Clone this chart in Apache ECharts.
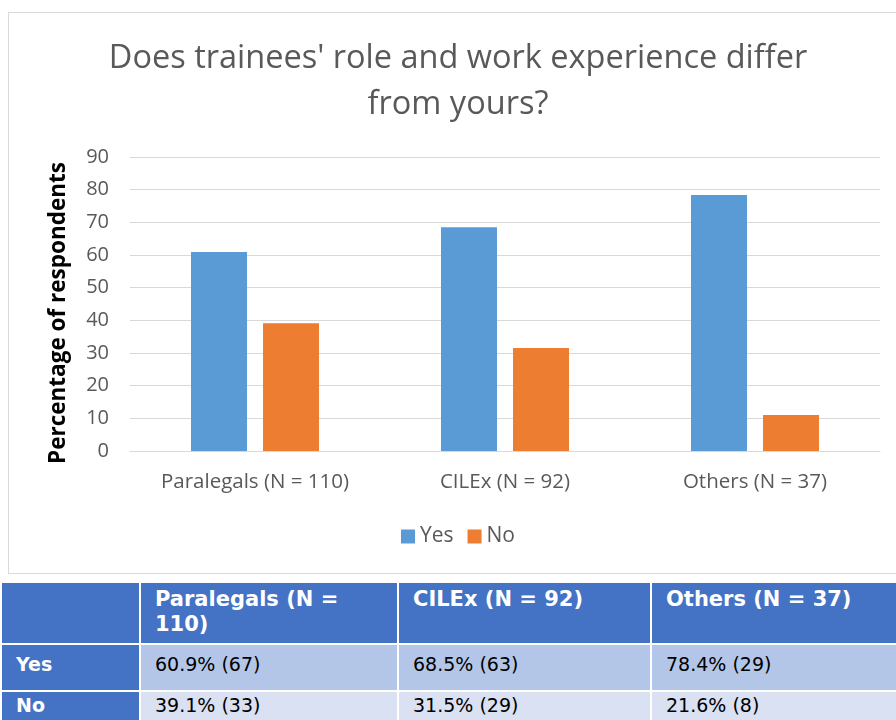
<!DOCTYPE html>
<html>
<head>
<meta charset="utf-8">
<script src="https://cdn.jsdelivr.net/npm/echarts@6/dist/echarts.min.js"></script>
<style>
  body { margin: 0; background: #fff; width: 896px; height: 720px; overflow: hidden; position: relative; }
  #chart { position: absolute; left: 8px; top: 12px; width: 900px; height: 562px; border: 1px solid #d9d9d9; box-sizing: border-box; }
  #tbl { position: absolute; left: 0; top: 581px; width: 900px; border-collapse: collapse; font-family: "DejaVu Sans", Verdana, sans-serif; font-size: 19px; table-layout: fixed; }
  #tbl td { border: 2px solid #fff; padding: 2px 14px; vertical-align: top; box-sizing: border-box; }
  #tbl tr.head td { background: #4472C4; color: #fff; font-weight: bold; font-size: 21px; height: 62px; padding-top: 4px; line-height: 25px; }
  #tbl tr.yes td { background: #B4C6E7; height: 47px; padding-top: 8px; }
  #tbl tr.no td { background: #D9E1F2; height: 40px; padding-top: 2px; }
  #tbl td.rowhead { background: #4472C4 !important; color: #fff; font-weight: bold; }
</style>
</head>
<body>
<div id="chart"></div>
<table id="tbl"></table>
<script>
// 数据
const categories = ['Paralegals (N = 110)', 'CILEx (N = 92)', 'Others (N = 37)'];
const yesValues = [60.9, 68.5, 78.4];
const noValues = [39.1, 31.5, 11];
const yTicks = [0, 90, 10]; // min, max, interval

// 表格数据
const tableRows = ['Yes', 'No'];
const tablePct = [['60.9%', '68.5%', '78.4%'], ['39.1%', '31.5%', '21.6%']];
const tableCount = [[67, 63, 29], [33, 29, 8]];

const labelFont = '"Open Sans", sans-serif';

const chart = echarts.init(document.getElementById('chart'));
chart.setOption({
  animation: false,
  title: {
    text: "Does trainees' role and work experience differ\nfrom yours?",
    left: 'center',
    top: 18,
    textStyle: { fontFamily: labelFont, fontSize: 32.5, fontWeight: 'normal', color: '#595959', lineHeight: 46 }
  },
  legend: {
    data: ['Yes', 'No'],
    bottom: 21,
    left: 'center',
    itemWidth: 14,
    itemHeight: 14,
    itemGap: 14,
    icon: 'rect',
    textStyle: { fontFamily: labelFont, fontSize: 21, color: '#595959' }
  },
  grid: { left: 121, width: 750, top: 144, height: 294 },
  xAxis: {
    type: 'category',
    data: categories,
    axisLine: { lineStyle: { color: '#d9d9d9' } },
    axisTick: { show: false },
    axisLabel: { fontFamily: labelFont, fontSize: 20.5, color: '#595959', margin: 21 }
  },
  yAxis: {
    type: 'value',
    min: yTicks[0],
    max: yTicks[1],
    interval: yTicks[2],
    name: 'Percentage of respondents',
    nameLocation: 'middle',
    nameGap: 60,
    nameTextStyle: { fontFamily: labelFont, fontSize: 22.5, fontWeight: 'bold', color: '#000', padding: [0, 18, 0, 0] },
    axisLine: { show: false },
    axisTick: { show: false },
    splitLine: { lineStyle: { color: '#d9d9d9', width: 1 } },
    axisLabel: { fontFamily: labelFont, fontSize: 20, color: '#595959', margin: 21 }
  },
  series: [
    { name: 'Yes', type: 'bar', data: yesValues, barWidth: 56, barGap: '28.6%', itemStyle: { color: '#5B9BD5' } },
    { name: 'No', type: 'bar', data: noValues, barWidth: 56, itemStyle: { color: '#ED7D31' } }
  ]
});

// 表格
const tbl = document.getElementById('tbl');
let html = '<colgroup><col style="width:139px"><col style="width:258px"><col style="width:253px"><col style="width:250px"></colgroup>';
html += '<tr class="head"><td></td>' + categories.map(c => '<td>' + c + '</td>').join('') + '</tr>';
tableRows.forEach((r, i) => {
  html += '<tr class="' + r.toLowerCase() + '"><td class="rowhead">' + r + '</td>' +
    tablePct[i].map((p, j) => '<td>' + p + ' (' + tableCount[i][j] + ')</td>').join('') + '</tr>';
});
tbl.innerHTML = html;
</script>
</body>
</html>
